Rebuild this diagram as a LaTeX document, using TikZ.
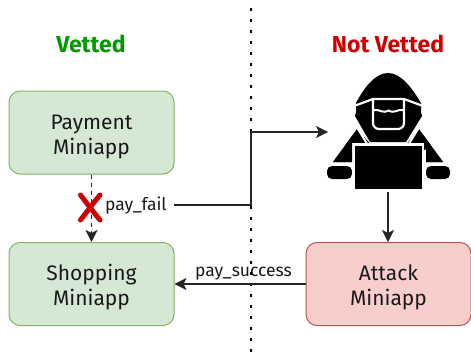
\documentclass[tikz,border=0pt]{standalone}
\usepackage{fontspec}
\setmainfont{Fira Sans}
\usetikzlibrary{arrows.meta}
\definecolor{gfill}{HTML}{D5E8D4}
\definecolor{gline}{HTML}{82B366}
\definecolor{rfill}{HTML}{F8CECC}
\definecolor{rline}{HTML}{B85450}
\definecolor{redx}{HTML}{CC0000}
\definecolor{vgreen}{HTML}{009900}
\newcommand{\upstrut}{\rule{0pt}{23pt}}
\tikzset{
  appbox/.style={draw=#1line,fill=#1fill,line width=1pt,rounded corners=11pt,minimum width=165pt,minimum height=83pt,inner sep=0pt,align=center,font=\fontsize{21}{25}\selectfont,text=black!90},
  title/.style={font=\fontsize{23}{26}\selectfont\bfseries},
  conn/.style={draw=black!85,line width=1.1pt,-{Stealth[length=12pt,width=12pt,inset=3pt]}},
  plainconn/.style={draw=black!85,line width=1.1pt},
  lab/.style={font=\fontsize{17.5}{20}\selectfont,text=black!90,inner sep=0pt}
}
\begin{document}
\begin{tikzpicture}[x=1pt,y=-1pt]
\useasboundingbox (0,0) rectangle (471,353);
% divider
\coordinate (dtop) at (251,8);
\coordinate (dbot) at (251,353);
\draw[line width=2.6pt,line cap=butt,dash pattern=on 2.6pt off 8.4pt] (dtop) -- (dbot);
% titles
\node[title,text=vgreen] (vetted) at (91,44) {Vetted};
\node[title,text=redx] (notvetted) at (388,44) {Not Vetted};
% boxes
\node[appbox=g] (pay) at (91.5,132.5) {\upstrut Payment\\Miniapp};
\node[appbox=g] (shop) at (91.5,284) {\upstrut Shopping\\Miniapp};
\node[appbox=r] (attack) at (388.5,284) {\upstrut Attack\\Miniapp};
% hacker
\begin{scope}
\fill[black] (356,103) .. controls (364,88) and (375,73) .. (388,73) .. controls (401,73) and (412,88) .. (421,103) -- (421,112) -- (422,116) -- (406,142) -- (370,142) -- (355,116) -- (356,112) -- cycle;
\fill[black] (357,129) -- (333,162) -- (443,162) -- (419,129) -- (405,146) -- (372,146) -- cycle;
\fill[black,rounded corners=5pt] (327,166) rectangle (352,179);
\fill[black,rounded corners=5pt] (426,166) rectangle (450,179);
\draw[white,line width=2.2pt] (354,106) -- (373,99) -- (404,99) -- (423,106);
\draw[white,line width=2.2pt,rounded corners=6pt] (373,100) -- (373,129) -- (404,129) -- (404,100);
\draw[white,line width=2pt] (374,110) .. controls (380,109) and (382,114) .. (388.5,110.5) .. controls (395,114) and (397,109) .. (403,110);
\draw[white,line width=2pt] (358,129) -- (369,147);
\draw[white,line width=2pt] (418,129) -- (407,147);
\fill[white] (352,143) rectangle (426,192);
\fill[black] (355,146) rectangle (422,189);
\fill[black] (333,162) -- (342,150) -- (352,150) -- (352,162) -- cycle;
\fill[black] (443,162) -- (434,150) -- (426,150) -- (426,162) -- cycle;
\fill[black] (344,147) -- (352,136) -- (352,150) -- cycle;
\fill[black] (432,147) -- (424,136) -- (424,150) -- cycle;
\end{scope}
\coordinate (hbot) at (388,192);
\coordinate (hleft) at (328,132);
% connectors
\draw[conn,dash pattern=on 4pt off 4pt,line width=1.3pt] (pay) -- (shop);
\coordinate (junc) at (251,205);
\coordinate (jtop) at (251,132);
\node[lab,anchor=west] (fail) at (105,206) {pay\_fail};
\draw[plainconn] (174,205) -- (junc) -- (jtop);
\draw[conn] (jtop) -- (hleft);
\draw[conn] (hbot) -- (attack.north -| hbot);
\draw[conn] (attack.west) -- (shop.east);
\node[lab] (succ) at (243.5,274) {pay\_success};
% red X
\coordinate (xa) at (80.5,195);
\coordinate (xb) at (100,220);
\coordinate (xc) at (100,195);
\coordinate (xd) at (80.5,220);
\draw[redx,line width=5pt,line cap=round] (xa) .. controls (86,202) and (94,213) .. (xb);
\draw[redx,line width=5pt,line cap=round] (xc) .. controls (94,202) and (86,213) .. (xd);
\end{tikzpicture}
\end{document}
